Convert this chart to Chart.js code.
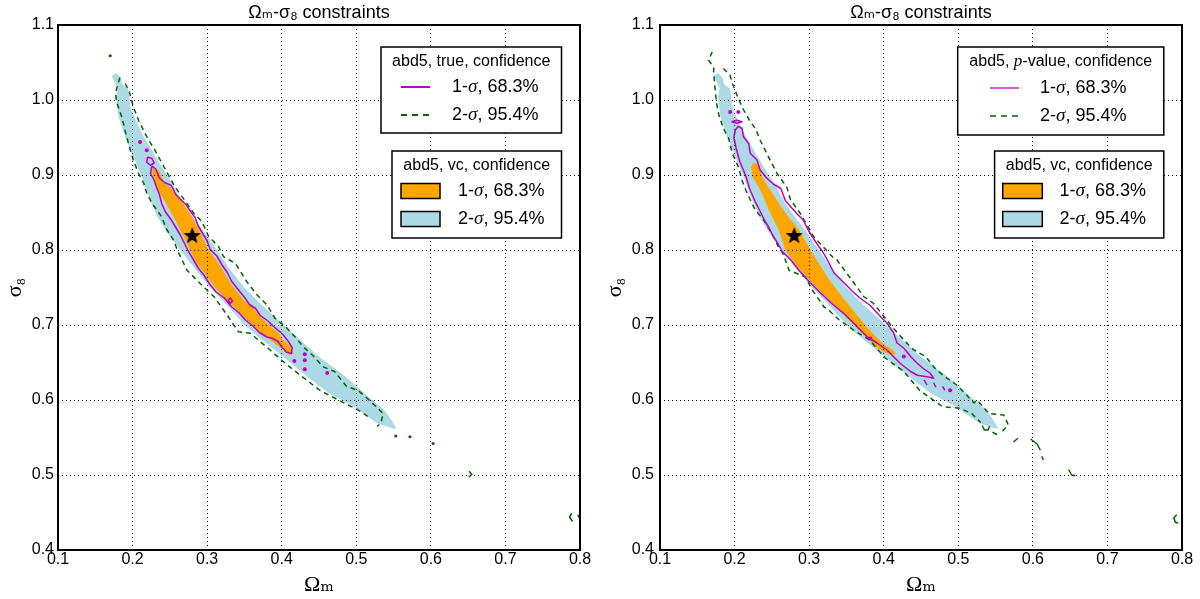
<!DOCTYPE html>
<html lang="en">
<head>
<meta charset="UTF-8">
<title>Ωm-σ8 constraints</title>
<script src="https://cdn.jsdelivr.net/npm/chart.js@4"></script>
<style>
  html, body { margin: 0; padding: 0; background: #fff; }
  #wrap { position: relative; width: 1200px; height: 599px; }
  .panel { position: absolute; top: 0; width: 600px; height: 599px; }
</style>
</head>
<body>
<div id="wrap">
  <div class="panel" style="left:0"><canvas id="left" width="600" height="599"></canvas></div>
  <div class="panel" style="left:600px"><canvas id="right" width="600" height="599"></canvas></div>
</div>
<script>
// ticks
const xTicks = [0.1, 0.2, 0.3, 0.4, 0.5, 0.6, 0.7, 0.8];
const yTicks = [0.4, 0.5, 0.6, 0.7, 0.8, 0.9, 1.0, 1.1];

// fiducial point
const starPoint = [[0.28, 0.82]];

// vc 2-sigma region (light blue), same in both panels
const vcRegion2 = [
  [0.178, 1.036], [0.184, 1.030], [0.186, 1.021], [0.194, 1.015], [0.197, 0.991],
  [0.206, 0.969], [0.215, 0.951], [0.226, 0.933], [0.239, 0.911], [0.253, 0.889],
  [0.268, 0.862], [0.284, 0.840], [0.298, 0.822], [0.313, 0.800], [0.330, 0.775],
  [0.349, 0.751], [0.375, 0.725], [0.403, 0.700], [0.425, 0.680], [0.447, 0.660],
  [0.470, 0.643], [0.487, 0.630], [0.504, 0.615], [0.520, 0.601], [0.538, 0.586],
  [0.548, 0.572], [0.554, 0.562], [0.549, 0.562], [0.528, 0.569], [0.497, 0.591],
  [0.463, 0.609], [0.432, 0.633], [0.405, 0.655], [0.380, 0.675], [0.352, 0.698],
  [0.328, 0.725], [0.303, 0.751], [0.278, 0.782], [0.258, 0.808], [0.245, 0.825],
  [0.233, 0.845], [0.222, 0.871], [0.212, 0.898], [0.201, 0.924], [0.190, 0.951],
  [0.181, 0.978], [0.178, 1.004], [0.180, 1.016], [0.176, 1.024], [0.172, 1.032]
];

// vc 1-sigma region (orange)
const vcRegion1Left = [
  [0.228, 0.911], [0.236, 0.905], [0.242, 0.889], [0.250, 0.884], [0.260, 0.872],
  [0.268, 0.862], [0.276, 0.850], [0.282, 0.840], [0.291, 0.822], [0.302, 0.800],
  [0.310, 0.790], [0.318, 0.778], [0.331, 0.756], [0.349, 0.733], [0.360, 0.725],
  [0.367, 0.716], [0.385, 0.698], [0.395, 0.690], [0.402, 0.680], [0.412, 0.672],
  [0.416, 0.662], [0.410, 0.660], [0.402, 0.667], [0.385, 0.680], [0.367, 0.693],
  [0.349, 0.711], [0.331, 0.729], [0.313, 0.747], [0.300, 0.764], [0.286, 0.782],
  [0.275, 0.804], [0.264, 0.827], [0.255, 0.844], [0.242, 0.867], [0.234, 0.880],
  [0.229, 0.895], [0.226, 0.905]
];
const vcRegion1Right = [
  [0.226, 0.917], [0.234, 0.911], [0.237, 0.898], [0.245, 0.884], [0.251, 0.875],
  [0.262, 0.858], [0.274, 0.842], [0.287, 0.826], [0.299, 0.805], [0.313, 0.782],
  [0.327, 0.760], [0.344, 0.738], [0.362, 0.716], [0.380, 0.694], [0.398, 0.676],
  [0.410, 0.668], [0.417, 0.662], [0.410, 0.660], [0.400, 0.664], [0.389, 0.671],
  [0.371, 0.689], [0.349, 0.711], [0.327, 0.733], [0.304, 0.756], [0.284, 0.778],
  [0.268, 0.800], [0.259, 0.827], [0.246, 0.853], [0.237, 0.875], [0.230, 0.888],
  [0.224, 0.898], [0.222, 0.910]
];

// true, 1-sigma contour (left panel)
const trueLine1 = [
  [0.226, 0.912], [0.231, 0.908], [0.236, 0.896], [0.243, 0.890], [0.252, 0.886],
  [0.258, 0.874], [0.266, 0.866], [0.272, 0.860], [0.278, 0.851], [0.284, 0.843],
  [0.288, 0.832], [0.294, 0.822], [0.300, 0.812], [0.304, 0.801], [0.313, 0.792],
  [0.320, 0.780], [0.327, 0.770], [0.333, 0.758], [0.341, 0.748], [0.350, 0.737],
  [0.357, 0.727], [0.365, 0.722], [0.371, 0.713], [0.382, 0.705], [0.388, 0.699],
  [0.395, 0.693], [0.401, 0.688], [0.409, 0.678], [0.414, 0.670], [0.413, 0.662],
  [0.406, 0.664], [0.400, 0.671], [0.395, 0.678], [0.388, 0.682], [0.380, 0.684],
  [0.370, 0.690], [0.362, 0.698], [0.351, 0.707], [0.343, 0.716], [0.333, 0.724],
  [0.323, 0.736], [0.312, 0.744], [0.303, 0.755], [0.296, 0.766], [0.288, 0.776],
  [0.281, 0.788], [0.275, 0.798], [0.270, 0.808], [0.264, 0.820], [0.258, 0.830],
  [0.252, 0.840], [0.244, 0.851], [0.239, 0.862], [0.236, 0.874], [0.232, 0.884],
  [0.229, 0.893], [0.224, 0.902], [0.226, 0.912], null,
  [0.220, 0.924], [0.226, 0.922], [0.229, 0.916], [0.224, 0.913], [0.219, 0.917], [0.220, 0.924], null,
  [0.328, 0.733], [0.331, 0.736], [0.334, 0.732], [0.331, 0.729], [0.328, 0.733]
];
const trueDots1 = [
  [0.210, 0.944], [0.219, 0.933], [0.417, 0.652], [0.431, 0.661],
  [0.431, 0.653], [0.431, 0.641], [0.461, 0.636]
];

// true, 2-sigma contour (left panel)
const trueLine2 = [
  [0.190, 1.022], [0.195, 1.013], [0.201, 0.991], [0.208, 0.973], [0.219, 0.951],
  [0.230, 0.933], [0.242, 0.911], [0.257, 0.884], [0.273, 0.862], [0.282, 0.849],
  [0.293, 0.838], [0.302, 0.818], [0.315, 0.805], [0.322, 0.791], [0.338, 0.782],
  [0.353, 0.758], [0.367, 0.740], [0.380, 0.727], [0.391, 0.709], [0.405, 0.698],
  [0.418, 0.684], [0.429, 0.671], [0.443, 0.658], [0.456, 0.644], [0.471, 0.638],
  [0.487, 0.618], [0.502, 0.613], [0.515, 0.602], [0.536, 0.582], [0.533, 0.569],
  [0.528, 0.565], null,
  [0.183, 1.030], [0.177, 1.009], [0.179, 0.996], [0.186, 0.976], [0.192, 0.951],
  [0.197, 0.933], [0.201, 0.920], [0.208, 0.902], [0.215, 0.889], [0.219, 0.876],
  [0.226, 0.862], [0.233, 0.853], [0.239, 0.844], [0.246, 0.827], [0.255, 0.813],
  [0.260, 0.800], [0.273, 0.773], [0.295, 0.751], [0.309, 0.738], [0.322, 0.720],
  [0.342, 0.691], [0.358, 0.689], [0.384, 0.667], [0.407, 0.647], [0.425, 0.633],
  [0.451, 0.613], [0.476, 0.600], [0.502, 0.587], [0.520, 0.575]
];
const trueBits2 = [
  [0.651, 0.505], [0.655, 0.501], [0.651, 0.497], null,
  [0.789, 0.449], [0.786, 0.444], [0.790, 0.438], null,
  [0.797, 0.447], [0.800, 0.441]
];
const trueDots2 = [[0.170, 1.059], [0.553, 0.552], [0.572, 0.551], [0.603, 0.542]];

// p-value, 1-sigma contour (right panel)
const pvalLine1 = [
  [0.205, 0.965], [0.210, 0.962], [0.212, 0.951], [0.219, 0.942], [0.221, 0.929],
  [0.230, 0.920], [0.234, 0.907], [0.243, 0.896], [0.252, 0.888], [0.262, 0.882],
  [0.268, 0.866], [0.275, 0.858], [0.284, 0.848], [0.292, 0.840], [0.298, 0.828],
  [0.304, 0.818], [0.312, 0.806], [0.318, 0.798], [0.326, 0.784], [0.333, 0.770],
  [0.346, 0.757], [0.358, 0.745], [0.368, 0.736], [0.382, 0.726], [0.392, 0.715],
  [0.404, 0.703], [0.413, 0.690], [0.418, 0.676], [0.427, 0.669], [0.436, 0.658],
  [0.445, 0.649], [0.453, 0.642], [0.462, 0.636], [0.467, 0.629], [0.458, 0.631],
  [0.445, 0.633], [0.436, 0.638], [0.422, 0.649], [0.413, 0.658], [0.404, 0.667],
  [0.391, 0.676], [0.378, 0.684], [0.367, 0.695], [0.348, 0.714], [0.330, 0.729],
  [0.313, 0.745], [0.300, 0.758], [0.287, 0.772], [0.276, 0.786], [0.264, 0.798],
  [0.259, 0.807], [0.252, 0.818], [0.246, 0.830], [0.240, 0.840], [0.234, 0.852],
  [0.227, 0.866], [0.220, 0.882], [0.215, 0.899], [0.207, 0.918], [0.202, 0.936],
  [0.199, 0.950], [0.201, 0.960], [0.205, 0.965], null,
  [0.196, 0.971], [0.203, 0.973], [0.210, 0.971], [0.203, 0.969], [0.196, 0.971], null,
  [0.454, 0.627], [0.458, 0.620], null, [0.467, 0.623], [0.470, 0.617], null,
  [0.479, 0.618], [0.482, 0.613]
];
const pvalDots1 = [[0.194, 0.984], [0.205, 0.984], [0.382, 0.682], [0.427, 0.658], [0.489, 0.613]];

// p-value, 2-sigma contour (right panel)
const pvalLine2 = [
  [0.185, 1.042], [0.194, 1.033], [0.197, 1.022], [0.205, 1.002], [0.212, 0.987],
  [0.221, 0.971], [0.228, 0.962], [0.234, 0.947], [0.243, 0.929], [0.257, 0.902],
  [0.270, 0.884], [0.275, 0.867], [0.288, 0.849], [0.306, 0.818], [0.319, 0.804],
  [0.333, 0.789], [0.337, 0.787], [0.349, 0.771], [0.360, 0.756], [0.373, 0.738],
  [0.386, 0.729], [0.395, 0.718], [0.411, 0.698], [0.427, 0.680], [0.440, 0.667],
  [0.456, 0.658], [0.469, 0.642], [0.482, 0.631], [0.498, 0.620], [0.509, 0.609],
  [0.521, 0.596], [0.525, 0.600], [0.541, 0.582], [0.561, 0.580], [0.567, 0.567],
  [0.559, 0.558], null,
  [0.170, 1.064], [0.165, 1.053], [0.172, 1.044], [0.172, 1.036], [0.174, 1.013],
  [0.176, 0.995], [0.179, 0.980], [0.185, 0.962], [0.192, 0.949], [0.197, 0.929],
  [0.205, 0.911], [0.210, 0.893], [0.215, 0.880], [0.221, 0.867], [0.228, 0.853],
  [0.239, 0.840], [0.250, 0.822], [0.258, 0.806], [0.265, 0.795], [0.273, 0.773],
  [0.295, 0.764], [0.304, 0.747], [0.320, 0.724], [0.324, 0.722], [0.340, 0.707],
  [0.360, 0.693], [0.381, 0.680], [0.402, 0.656], [0.427, 0.638], [0.448, 0.613],
  [0.479, 0.591], [0.502, 0.589], [0.518, 0.582], [0.530, 0.570]
];
const pvalBits2 = [
  [0.574, 0.544], [0.580, 0.549], null,
  [0.597, 0.548], [0.606, 0.541], [0.610, 0.533], null,
  [0.612, 0.525], [0.614, 0.520], null,
  [0.648, 0.507], [0.652, 0.500], [0.657, 0.499], null,
  [0.793, 0.447], [0.789, 0.443], [0.791, 0.437], [0.795, 0.436], null,
  [0.532, 0.566], [0.535, 0.560], [0.540, 0.560], [0.542, 0.565], null,
  [0.546, 0.557], [0.552, 0.554]
];

const MAGENTA = '#bf00bf';
const GREEN = '#006400';
const ORANGE = '#ffa500';
const LIGHTBLUE = '#add8e6';
const SANS = '"Liberation Sans", "DejaVu Sans", Arial, sans-serif';
const SERIF = '"Liberation Serif", "DejaVu Serif", serif';

const pts = a => a.map(p => p ? { x: p[0], y: p[1] } : { x: null, y: null });

function fillSet(data, color, order) {
  return { data: pts(data), backgroundColor: color, borderColor: 'rgba(0,0,0,0)', borderWidth: 0,
           fill: 'shape', pointRadius: 0, order };
}
function lineSet(data, color, width, dash, order) {
  return { data: pts(data), borderColor: color, borderWidth: width, borderDash: dash,
           borderJoinStyle: 'round', fill: false, pointRadius: 0, order };
}
function dotSet(data, color, r, order) {
  return { data: pts(data), showLine: false, pointRadius: r, pointBackgroundColor: color,
           pointBorderColor: color, pointBorderWidth: 0, order };
}

function makeStar(size) {
  const c = document.createElement('canvas');
  c.width = c.height = size;
  const g = c.getContext('2d');
  const R = size / 2, r = R * 0.42;
  g.beginPath();
  for (let i = 0; i < 10; i++) {
    const a = -Math.PI / 2 + i * Math.PI / 5;
    const rr = i % 2 ? r : R;
    g.lineTo(R + rr * Math.cos(a), R + 1 + rr * Math.sin(a));
  }
  g.closePath();
  g.fillStyle = '#000';
  g.fill();
  return c;
}
const starImg = makeStar(18);

// frame round the plot area
const framePlugin = {
  id: 'frame',
  afterDraw(chart) {
    const { ctx, chartArea: a } = chart;
    ctx.save();
    ctx.strokeStyle = '#000';
    ctx.lineWidth = 2;
    ctx.strokeRect(a.left, a.top, a.right - a.left, a.bottom - a.top);
    ctx.restore();
  }
};

function drawRich(ctx, parts, x, y, size, center) {
  const fonts = parts.map(p => p.it ? `italic ${size + 1}px ${SERIF}` : `${size}px ${SANS}`);
  let w = 0;
  const ws = parts.map((p, i) => { ctx.font = fonts[i]; const m = ctx.measureText(p.t).width; w += m; return m; });
  let cx = center ? x - w / 2 : x;
  ctx.textAlign = 'left';
  ctx.textBaseline = 'middle';
  ctx.fillStyle = '#000';
  parts.forEach((p, i) => { ctx.font = fonts[i]; ctx.fillText(p.t, cx, y); cx += ws[i]; });
}

const row1 = [{ t: '1-' }, { t: 'σ', it: true }, { t: ', 68.3%' }];
const row2 = [{ t: '2-' }, { t: 'σ', it: true }, { t: ', 95.4%' }];

function legendPlugin(boxes) {
  return {
    id: 'boxes',
    afterDraw(chart) {
      const ctx = chart.ctx;
      ctx.save();
      for (const b of boxes) {
        ctx.fillStyle = '#fff';
        ctx.fillRect(b.x0, b.y0, b.x1 - b.x0, b.y1 - b.y0);
        ctx.strokeStyle = '#000';
        ctx.lineWidth = 1.5;
        ctx.setLineDash([]);
        ctx.strokeRect(b.x0, b.y0, b.x1 - b.x0, b.y1 - b.y0);
        drawRich(ctx, b.title, (b.x0 + b.x1) / 2, b.ty, 16, true);
        b.rows.forEach((r, i) => {
          const y = b.ry[i];
          if (r.patch) {
            ctx.fillStyle = r.color;
            ctx.fillRect(b.sx0, y - 7.5, b.sx1 - b.sx0, 15);
            ctx.strokeStyle = '#000';
            ctx.lineWidth = 1.5;
            ctx.setLineDash([]);
            ctx.strokeRect(b.sx0, y - 7.5, b.sx1 - b.sx0, 15);
          } else {
            ctx.strokeStyle = r.color;
            ctx.lineWidth = r.width;
            ctx.setLineDash(r.dash);
            ctx.beginPath();
            ctx.moveTo(b.sx0, y);
            ctx.lineTo(b.sx1, y);
            ctx.stroke();
            ctx.setLineDash([]);
          }
          drawRich(ctx, r.text, b.tx, y, 18, false);
        });
      }
      ctx.restore();
    }
  };
}

function makeChart(id, datasets, yWidth, padRight, tickPad, boxes) {
  const tickFont = { family: SANS, size: 16 };
  const grid = { color: '#000', lineWidth: 1, drawTicks: false, z: 1 };
  const border = { display: false, dash: [1, 3] };
  return new Chart(document.getElementById(id), {
    type: 'line',
    data: { datasets },
    options: {
      responsive: false,
      animation: false,
      events: [],
      layout: { padding: { left: 0, right: padRight, top: 0, bottom: 0 } },
      plugins: {
        legend: { display: false },
        tooltip: { enabled: false },
        title: {
          display: true, text: 'Ωₘ-σ₈ constraints', color: '#000', fullSize: false,
          font: { family: SANS, size: 18, weight: 'normal' }, padding: { top: 2, bottom: 1.4 }
        }
      },
      scales: {
        x: {
          type: 'linear', min: 0.1, max: 0.8,
          afterBuildTicks: s => { s.ticks = xTicks.map(v => ({ value: v })); },
          afterFit: s => { s.height = 49; },
          ticks: { color: '#000', font: tickFont, padding: 0, maxRotation: 0, callback: v => v.toFixed(1) },
          grid, border,
          title: { display: true, text: 'Ωₘ', color: '#000', font: { family: SERIF, size: 22 }, padding: { top: 0, bottom: 1 } }
        },
        y: {
          type: 'linear', min: 0.4, max: 1.1,
          afterBuildTicks: s => { s.ticks = yTicks.map(v => ({ value: v })); },
          afterFit: s => { s.width = yWidth; },
          ticks: { color: '#000', font: tickFont, padding: tickPad, callback: v => v.toFixed(1) },
          grid, border,
          title: { display: true, text: 'σ₈', color: '#000', font: { family: SERIF, size: 22 }, padding: { top: 2, bottom: 0 } }
        }
      }
    },
    plugins: [framePlugin, legendPlugin(boxes)]
  });
}

const starSet = { data: pts(starPoint), showLine: false, pointStyle: starImg, pointRadius: 9, order: 1 };

makeChart('left', [
  fillSet(vcRegion2, LIGHTBLUE, 9),
  fillSet(vcRegion1Left, ORANGE, 8),
  lineSet(trueLine2, GREEN, 1.5, [5, 4], 6),
  lineSet(trueBits2, GREEN, 1.5, [], 6),
  dotSet(trueDots2, GREEN, 1.6, 6),
  lineSet(trueLine1, MAGENTA, 1.5, [], 4),
  dotSet(trueDots1, MAGENTA, 2, 4),
  starSet
], 58, 20, 4, [
  { x0: 381, y0: 47, x1: 561.5, y1: 133, ty: 62,
    title: [{ t: 'abd5, true, confidence' }],
    sx0: 401, sx1: 430, tx: 452, ry: [87, 115],
    rows: [{ color: MAGENTA, width: 2, dash: [], text: row1 },
           { color: GREEN, width: 2, dash: [6, 5], text: row2 }] },
  { x0: 392, y0: 151, x1: 561.5, y1: 238, ty: 166,
    title: [{ t: 'abd5, vc, confidence' }],
    sx0: 401, sx1: 440, tx: 458, ry: [191, 219],
    rows: [{ patch: true, color: ORANGE, text: row1 },
           { patch: true, color: LIGHTBLUE, text: row2 }] }
]);

makeChart('right', [
  fillSet(vcRegion2, LIGHTBLUE, 9),
  fillSet(vcRegion1Right, ORANGE, 8),
  lineSet(pvalLine2, GREEN, 1.5, [5, 4], 6),
  lineSet(pvalBits2, GREEN, 1.5, [], 6),
  lineSet(pvalLine1, MAGENTA, 1.5, [], 4),
  dotSet(pvalDots1, MAGENTA, 2, 4),
  { ...starSet }
], 60, 18, 6, [
  { x0: 357.7, y0: 47, x1: 563.8, y1: 135, ty: 62,
    title: [{ t: 'abd5, ' }, { t: 'p', it: true }, { t: '-value, confidence' }],
    sx0: 390, sx1: 419, tx: 440, ry: [88, 116],
    rows: [{ color: MAGENTA, width: 1.3, dash: [], text: row1 },
           { color: GREEN, width: 1.5, dash: [6, 5], text: row2 }] },
  { x0: 394.6, y0: 151, x1: 563.8, y1: 238, ty: 166,
    title: [{ t: 'abd5, vc, confidence' }],
    sx0: 402.7, sx1: 442.3, tx: 459.6, ry: [191, 219],
    rows: [{ patch: true, color: ORANGE, text: row1 },
           { patch: true, color: LIGHTBLUE, text: row2 }] }
]);
</script>
</body>
</html>
